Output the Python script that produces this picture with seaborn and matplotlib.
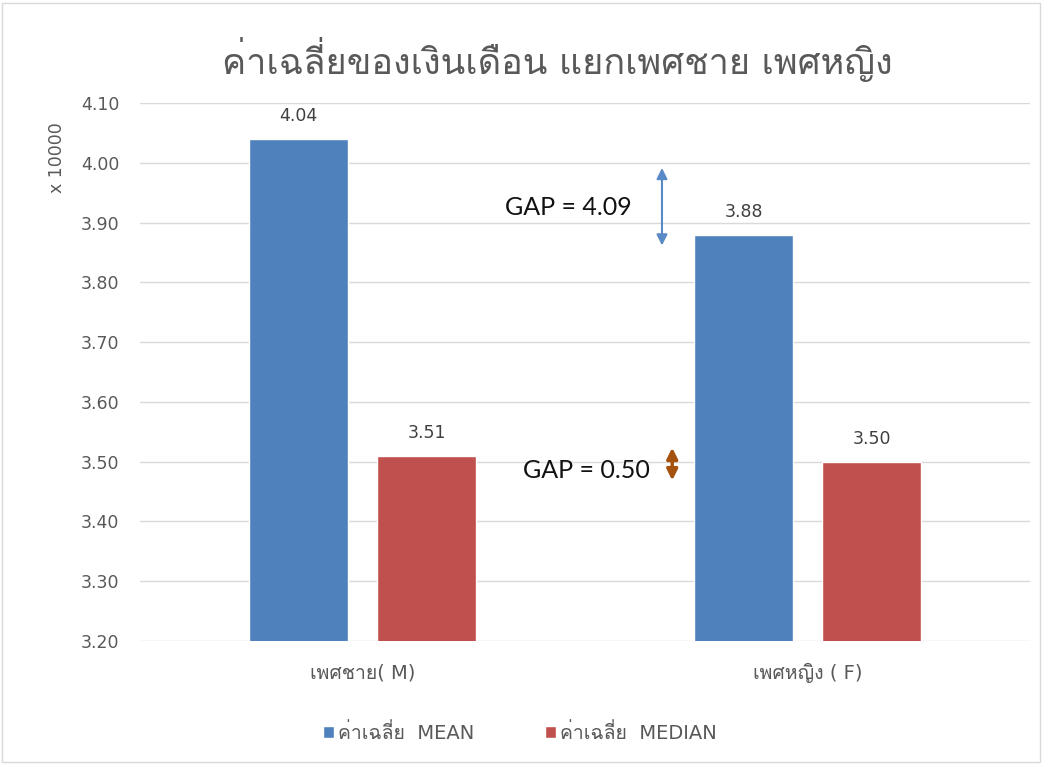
import pandas as pd
import matplotlib
matplotlib.use("Agg")
import matplotlib.pyplot as plt
import seaborn as sns
from matplotlib import font_manager as fm
from matplotlib.ft2font import FT2Font

# Data (values in units of 10000)
groups = ["เพศชาย( M)", "เพศหญิง ( F)"]
series = ["ค่าเฉลี่ย  MEAN", "ค่าเฉลี่ย  MEDIAN"]
mean_vals = [4.04, 3.88]
median_vals = [3.51, 3.50]
gap_mean = "GAP = 4.09"
gap_median = "GAP = 0.50"
title = "ค่าเฉลี่ยของเงินเดือน แยกเพศชาย เพศหญิง"
y_ticks = [3.2, 3.3, 3.4, 3.5, 3.6, 3.7, 3.8, 3.9, 4.0, 4.1]

df = pd.DataFrame({
    "group": groups * 2,
    "stat": [series[0]] * 2 + [series[1]] * 2,
    "value": mean_vals + median_vals,
})

# find an installed font that has Thai glyphs
thai_font = None
for f in fm.fontManager.ttflist:
    try:
        if 0x0E04 in FT2Font(f.fname).get_charmap():
            thai_font = f.name
            break
    except Exception:
        pass

sns.set_style("white")
fams = ["DejaVu Sans"]
if thai_font:
    fams.append(thai_font)
plt.rcParams["font.family"] = fams

blue = "#4f81bd"
red = "#c0504d"
grey_txt = "#595959"

fig = plt.figure(figsize=(10.5, 7.67), dpi=100)
ax = fig.add_axes([140 / 1050, 1 - 641 / 767, 890 / 1050, 538 / 767])

sns.barplot(data=df, x="group", y="value", hue="stat", palette=[blue, red],
            width=0.575, gap=0.219, ax=ax, saturation=1)

ax.set_ylim(3.2, 4.1)
ax.set_xlim(-0.5, 1.5)
ax.set_yticks(y_ticks)
ax.set_yticklabels(["%.2f" % t for t in y_ticks])
ax.yaxis.grid(True, color="#d9d9d9", linewidth=1)
ax.set_axisbelow(True)
sns.despine(ax=ax, left=True, bottom=True)
ax.tick_params(axis="y", length=0, labelsize=12.5, colors=grey_txt, pad=15)
ax.tick_params(axis="x", length=0, labelsize=14, colors=grey_txt, pad=16)
ax.set_xlabel("")
ax.set_ylabel("")

for cont in ax.containers:
    ax.bar_label(cont, fmt="%.2f", padding=10, fontsize=12.5, color="#404040")

# y unit label
fig.text(57 / 1050, 1 - 158 / 767, "x 10000", rotation=90, ha="center",
         va="center", fontsize=12.5, color=grey_txt)

fig.text(0.531, 1 - 60 / 767, title, ha="center", va="center", fontsize=26,
         color=grey_txt)

# gap annotations
ax.annotate("", xy=(0.673, 3.996), xytext=(0.673, 3.857),
            arrowprops=dict(arrowstyle="<|-|>", color="#5a8ac6", lw=1.5,
                            mutation_scale=16))
ax.text(0.462, 3.926, gap_mean, ha="center", va="center", fontsize=18,
        color="#111111", family=["Lato", "DejaVu Sans"])
ax.annotate("", xy=(0.696, 3.528), xytext=(0.696, 3.464),
            arrowprops=dict(arrowstyle="<|-|>", color="#a5520f", lw=2.5,
                            mutation_scale=16))
ax.text(0.504, 3.486, gap_median, ha="center", va="center", fontsize=18,
        color="#111111", family=["Lato", "DejaVu Sans"])

handles, labels = ax.get_legend_handles_labels()
ax.legend_.remove()
fig.legend(handles, labels, loc="center", bbox_to_anchor=(0.495, 1 - 733 / 767),
           ncol=2, frameon=False, fontsize=14, handlelength=0.6,
           handleheight=0.6, handletextpad=0.2, columnspacing=3.6,
           labelcolor=grey_txt)

# chart border
fig.patches.append(plt.Rectangle((0.002, 0.006), 0.988, 0.99, fill=False,
                                 edgecolor="#d9d9d9", lw=1,
                                 transform=fig.transFigure, figure=fig))

fig.savefig("out.png", dpi=100)
